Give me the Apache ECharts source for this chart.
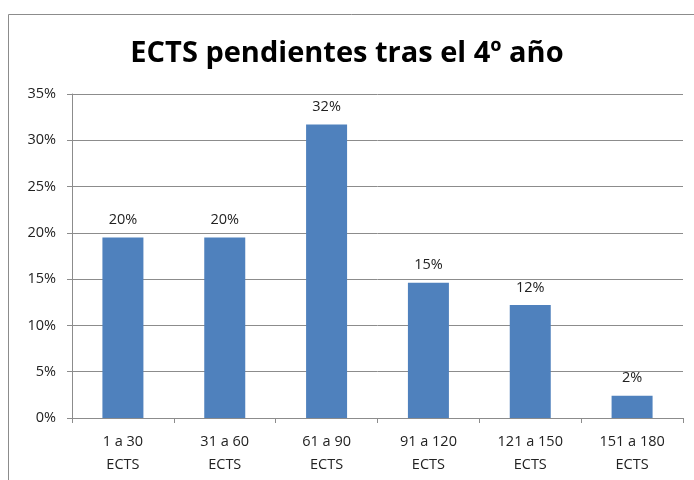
<!DOCTYPE html>
<html>
<head>
<meta charset="utf-8">
<script src="https://cdn.jsdelivr.net/npm/echarts@6/dist/echarts.min.js"></script>
<style>
  html, body { margin: 0; padding: 0; background: #fff; }
  #chartBox { width: 694px; height: 480px; }
</style>
</head>
<body>
<div id="chartBox"></div>
<script>
// categorías del eje X
var categories = ['1 a 30\nECTS', '31 a 60\nECTS', '61 a 90\nECTS', '91 a 120\nECTS', '121 a 150\nECTS', '151 a 180\nECTS']
// porcentaje de alumnos
var values = [19.5, 19.5, 31.7, 14.6, 12.2, 2.4]
// etiquetas mostradas sobre las barras
var barLabels = ['20%', '20%', '32%', '15%', '12%', '2%']

var font = '"Open Sans", "Liberation Sans", sans-serif'
var myChart = echarts.init(document.getElementById('chartBox'))
myChart.setOption({
  animation: false,
  title: {
    text: 'ECTS pendientes tras el 4º año',
    left: 'center',
    top: 34,
    textStyle: { fontFamily: font, fontSize: 29, fontWeight: 'bold', color: '#000' }
  },
  graphic: [{
    type: 'rect',
    shape: { x: 8.5, y: 14.5, width: 720, height: 500 },
    style: { fill: 'none', stroke: '#8c8c8c', lineWidth: 1 },
    silent: true
  }],
  grid: { left: 72, right: 11, top: 94, bottom: 62 },
  xAxis: {
    type: 'category',
    data: categories,
    axisLine: { lineStyle: { color: '#8c8c8c' } },
    axisTick: { show: true, length: 5, lineStyle: { color: '#8c8c8c' } },
    axisLabel: { fontFamily: font, fontSize: 14.5, color: '#222', lineHeight: 23, margin: 12 }
  },
  yAxis: {
    type: 'value',
    min: 0,
    max: 35,
    interval: 5,
    axisLine: { show: true, lineStyle: { color: '#8c8c8c' } },
    axisTick: { show: true, length: 5, lineStyle: { color: '#8c8c8c' } },
    splitLine: { lineStyle: { color: '#8c8c8c' } },
    axisLabel: {
      fontFamily: font, fontSize: 14.5, color: '#222', margin: 16,
      formatter: function (v) { return v + '%' }
    }
  },
  series: [{
    type: 'bar',
    data: values,
    barWidth: 41,
    itemStyle: { color: '#4f81bd' },
    label: {
      show: true,
      position: 'top',
      distance: 10,
      fontFamily: font,
      fontSize: 14.5,
      color: '#222',
      formatter: function (p) { return barLabels[p.dataIndex] }
    }
  }]
})
</script>
</body>
</html>
